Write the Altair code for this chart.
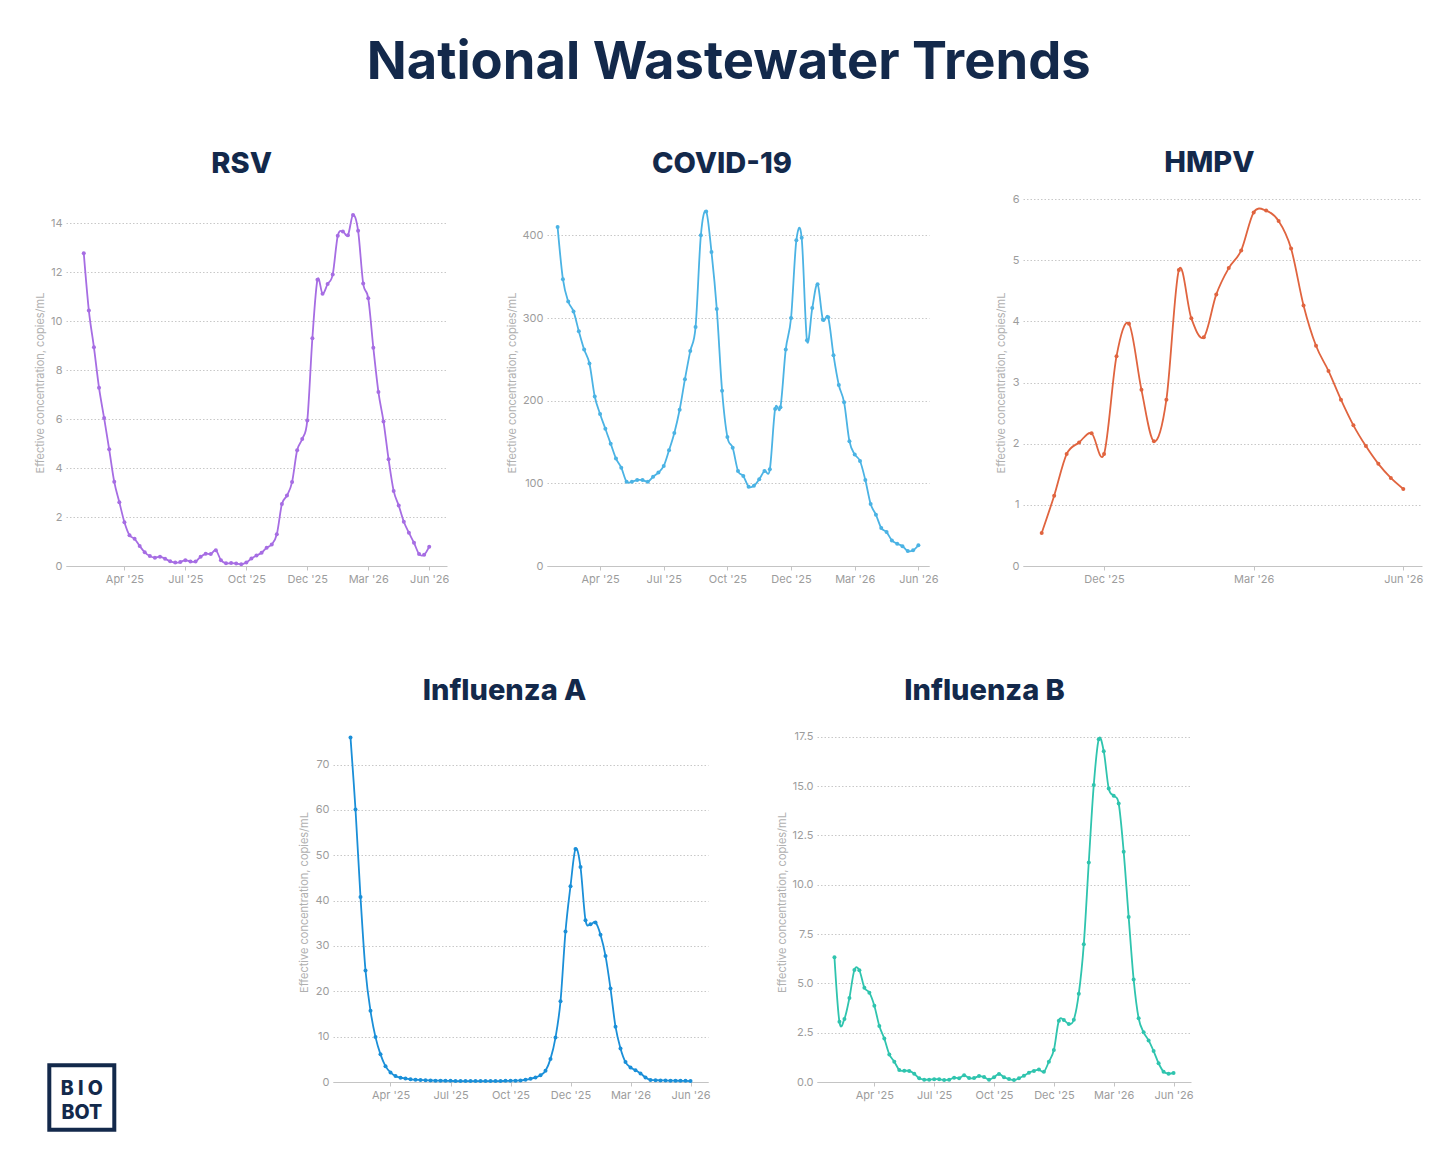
import altair as alt
import pandas as pd

########################################################################################
############# Data (one value per weekly sample) #######################################
########################################################################################

# sample number of each labelled x tick, and its label
tick_weeks = [8, 20, 32, 44, 56, 68]
tick_labels = ["Apr '25", "Jul '25", "Oct '25", "Dec '25", "Mar '26", "Jun '26"]

rsv = [12.78, 10.44, 8.94, 7.29, 6.05, 4.77, 3.44, 2.61, 1.79, 1.26,
       1.11, 0.82, 0.56, 0.41, 0.34, 0.38, 0.30, 0.19, 0.14, 0.16,
       0.24, 0.18, 0.18, 0.38, 0.50, 0.49, 0.64, 0.24, 0.11, 0.12,
       0.10, 0.07, 0.14, 0.31, 0.43, 0.54, 0.75, 0.88, 1.30, 2.53,
       2.88, 3.43, 4.73, 5.19, 5.95, 9.31, 11.70, 11.13, 11.53, 11.91,
       13.50, 13.67, 13.52, 14.35, 13.70, 11.55, 10.94, 8.92, 7.11, 5.91,
       4.36, 3.07, 2.47, 1.81, 1.36, 0.95, 0.49, 0.46, 0.79]

covid = [410, 347, 320, 308, 284, 262, 245, 205, 184, 166,
         148, 130, 119, 102, 102, 104, 104, 102, 108, 113,
         121, 140, 161, 189, 226, 260, 289, 400, 429, 380,
         311, 212, 156, 143, 115, 109, 96, 97, 105, 115,
         117, 190, 192, 262, 300, 394, 397, 273, 312, 341,
         298, 301, 255, 219, 198, 151, 135, 127, 104, 75,
         62, 46, 41, 31, 27, 24, 18, 19, 25]

# HMPV reporting starts later
hmpv_first = 39
hmpv = [0.54, 1.15, 1.83, 2.02, 2.17, 1.83, 3.43, 3.96, 2.88, 2.04,
        2.72, 4.84, 4.05, 3.74, 4.44, 4.87, 5.16, 5.78, 5.81, 5.64,
        5.19, 4.26, 3.60, 3.19, 2.72, 2.30, 1.96, 1.67, 1.44, 1.26]

flu_a = [76.0, 60.1, 40.8, 24.6, 15.7, 9.9, 6.1, 3.5, 2.1, 1.3,
         0.95, 0.75, 0.6, 0.5, 0.45, 0.4, 0.35, 0.3, 0.3, 0.25,
         0.25, 0.2, 0.2, 0.2, 0.2, 0.2, 0.2, 0.2, 0.2, 0.2,
         0.2, 0.25, 0.25, 0.3, 0.35, 0.5, 0.7, 1.0, 1.5, 2.5,
         5.1, 9.8, 17.8, 33.2, 43.2, 51.4, 47.4, 35.7, 34.8, 35.2,
         32.5, 27.8, 20.6, 12.2, 7.4, 4.4, 3.2, 2.6, 1.9, 1.0,
         0.45, 0.4, 0.35, 0.35, 0.3, 0.3, 0.25, 0.25, 0.2]

flu_b = [6.32, 3.05, 3.2, 4.26, 5.68, 5.66, 4.78, 4.53, 3.87, 2.84,
         2.2, 1.4, 1.03, 0.61, 0.57, 0.56, 0.42, 0.19, 0.12, 0.12,
         0.14, 0.14, 0.10, 0.12, 0.22, 0.19, 0.34, 0.20, 0.20, 0.30,
         0.25, 0.12, 0.24, 0.41, 0.24, 0.15, 0.10, 0.19, 0.32, 0.47,
         0.56, 0.63, 0.52, 1.03, 1.62, 3.11, 3.14, 2.94, 3.16, 4.48,
         6.98, 11.13, 15.05, 17.38, 16.77, 14.88, 14.51, 14.12, 11.67, 8.36,
         5.19, 3.23, 2.52, 2.11, 1.57, 0.95, 0.52, 0.42, 0.46]

rsv_ticks = [0, 2, 4, 6, 8, 10, 12, 14]
covid_ticks = [0, 100, 200, 300, 400]
hmpv_ticks = [0, 1, 2, 3, 4, 5, 6]
flu_a_ticks = [0, 10, 20, 30, 40, 50, 60, 70]
flu_b_ticks = [0, 2.5, 5, 7.5, 10, 12.5, 15, 17.5]

logo_lines = ["B I O", "BOT"]

NAVY = "#13294b"
FONT = "Inter"
Y_TITLE = "Effective concentration, copies/mL"

########################################################################################
############# One panel per pathogen ###################################################
########################################################################################

label_expr = "[" + ",".join('"%s"' % t for t in tick_labels) + "][indexof(" + str(tick_weeks) + ", datum.value)]"


def panel(name, values, first, color, x_domain, y_max, y_ticks, width, height,
          y_format="d", title_offset=20):
    df = pd.DataFrame({"week": list(range(first, first + len(values))), "value": values})
    x_vals = [w for w in tick_weeks if x_domain[0] <= w <= x_domain[1]]
    return alt.Chart(df, title=alt.TitleParams(name, font=FONT, fontSize=29, fontWeight=800,
                                               color=NAVY, anchor="middle", frame="bounds",
                                               offset=title_offset)).mark_line(
        interpolate="cardinal", tension=0, color=color, strokeWidth=1.8,
        point=alt.OverlayMarkDef(color=color, size=16, filled=True, opacity=1)
    ).encode(
        x=alt.X("week:Q", scale=alt.Scale(domain=x_domain, nice=False, zero=False),
                axis=alt.Axis(values=x_vals, labelExpr=label_expr, title=None, grid=False)),
        y=alt.Y("value:Q", scale=alt.Scale(domain=[0, y_max], nice=False),
                axis=alt.Axis(values=y_ticks, format=y_format, title=Y_TITLE, domain=False,
                              ticks=False, grid=True))
    ).properties(width=width, height=height)


rsv_chart = panel("RSV", rsv, 0, "#a66de3", [-3.5, 71.5], 15, rsv_ticks, 381, 367)
covid_chart = panel("COVID-19", covid, 0, "#4bb3e4", [-2, 70], 444, covid_ticks, 382, 367)
hmpv_chart = panel("HMPV", hmpv, hmpv_first, "#e0643f", [37.5, 69.5], 6, hmpv_ticks, 399, 367,
                   title_offset=15)
flu_a_chart = panel("Influenza A", flu_a, 0, "#1a8fd8", [-3.5, 71.5], 79.4, flu_a_ticks, 375, 360,
                    title_offset=16)
flu_b_chart = panel("Influenza B", flu_b, 0, "#2fc4ae", [-3.5, 71.5], 18.25, flu_b_ticks, 374, 360,
                    y_format=".1f", title_offset=16)

########################################################################################
############# BIOBOT logo in the corner ################################################
########################################################################################

logo_box = alt.Chart(pd.DataFrame({"box": [1]})).mark_rect(
    filled=False, stroke=NAVY, strokeWidth=4
).encode(x=alt.value(-16.7), x2=alt.value(48.3), y=alt.value(343.3), y2=alt.value(407.7))

logo_text = alt.Chart(pd.DataFrame({"label": logo_lines, "row": [0, 1]})).mark_text(
    font=FONT, fontSize=19.5, fontWeight=800, color=NAVY, align="center", baseline="alphabetic"
).encode(
    x=alt.value(15.8),
    y=alt.Y("row:Q", scale=alt.Scale(domain=[0, 1], range=[373, 397]), axis=None),
    text="label:N"
)

logo = alt.layer(logo_box, logo_text).properties(width=167, height=410)

########################################################################################
############# Layout ###################################################################
########################################################################################

top = alt.hconcat(rsv_chart, covid_chart, hmpv_chart, spacing=57)
bottom = alt.hconcat(logo, flu_a_chart, flu_b_chart, spacing=65)

chart = alt.vconcat(top, bottom, spacing=93).properties(
    title=alt.TitleParams("National Wastewater Trends", font=FONT, fontSize=52.5, fontWeight=700,
                          color=NAVY, anchor="middle", offset=59),
    padding={"left": 26, "top": 28, "right": 5, "bottom": 5},
    background="white"
).configure_view(
    stroke=None
).configure_axis(
    labelFont=FONT, titleFont=FONT,
    labelFontSize=11, labelColor="#9c9c9c",
    titleFontSize=11, titleColor="#b0b0b0", titleFontWeight=400, titlePadding=5,
    gridColor="#c8c8c8", gridDash=[1.5, 2], gridWidth=1,
    domainColor="#c4c4c4", tickColor="#c4c4c4", tickSize=4,
    labelPadding=4
).configure_axisX(
    labelPadding=3
)

chart.save("out.html", embed_options={"renderer": "svg", "actions": False})
